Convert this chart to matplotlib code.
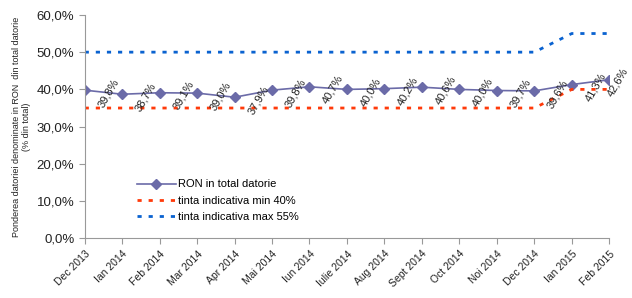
import numpy as np
import matplotlib
matplotlib.use('Agg')
import matplotlib.pyplot as plt

plt.rcParams['font.family'] = ['Liberation Sans', 'DejaVu Sans']

# data
months = ['Dec 2013', 'Ian 2014', 'Feb 2014', 'Mar 2014', 'Apr 2014', 'Mai 2014',
          'Iun 2014', 'Iulie 2014', 'Aug 2014', 'Sept 2014', 'Oct 2014', 'Noi 2014',
          'Dec 2014', 'Ian 2015', 'Feb 2015']
ron = [39.8, 38.7, 39.1, 39.0, 37.9, 39.8, 40.7, 40.0, 40.2, 40.6, 40.0, 39.7, 39.6, 41.3, 42.6]
tinta_min = [35, 35, 35, 35, 35, 35, 35, 35, 35, 35, 35, 35, 35, 40, 40]
tinta_max = [50, 50, 50, 50, 50, 50, 50, 50, 50, 50, 50, 50, 50, 55, 55]

x = np.arange(len(months))

fig = plt.figure(figsize=(6.32, 2.98), dpi=100)
ax = fig.add_axes([0.134, 0.20, 0.83, 0.75])

ax.plot(x, ron, '-', color='#6b6ba8', marker='D', markersize=5, linewidth=1.2,
        label='RON in total datorie')
ax.plot(x, tinta_min, linestyle=(0, (1.5, 2.5)), color='#ff3a0a', linewidth=2,
        label='tinta indicativa min 40%')
ax.plot(x, tinta_max, linestyle=(0, (1.5, 2.5)), color='#0a62d0', linewidth=2,
        label='tinta indicativa max 55%')

# data labels, rotated
for i, (xi, v) in enumerate(zip(x, ron)):
    dx = 17 if i < len(ron) - 1 else 6
    ax.annotate(('%.1f%%' % v).replace('.', ','), (xi, v), xytext=(dx, -2),
                textcoords='offset points', rotation=60, ha='center', va='center',
                fontsize=8, color='#222222', clip_on=False)

ax.set_xlim(0, len(months) - 1)
ax.set_ylim(0, 60)
ax.set_yticks(np.arange(0, 61, 10))
ax.set_yticklabels([('%.1f%%' % t).replace('.', ',') for t in np.arange(0, 61, 10)], fontsize=9.5)
ax.set_xticks(x)
ax.set_xticklabels(months, rotation=45, ha='right', rotation_mode='anchor', fontsize=7.5)

for s in ['top', 'right']:
    ax.spines[s].set_visible(False)
for s in ['left', 'bottom']:
    ax.spines[s].set_color('#999999')
ax.tick_params(axis='both', colors='#999999', labelcolor='#222222', length=4)

ax.set_ylabel('Ponderea datoriei denominate in RON  din total datorie\n(% din total)',
              fontsize=6.5, color='#222222', labelpad=4)

ax.legend(loc='lower left', bbox_to_anchor=(0.08, 0.03), frameon=False, fontsize=8,
          handlelength=3.5, handletextpad=0.2, labelspacing=0.55)

plt.savefig('out.png', dpi=100)
